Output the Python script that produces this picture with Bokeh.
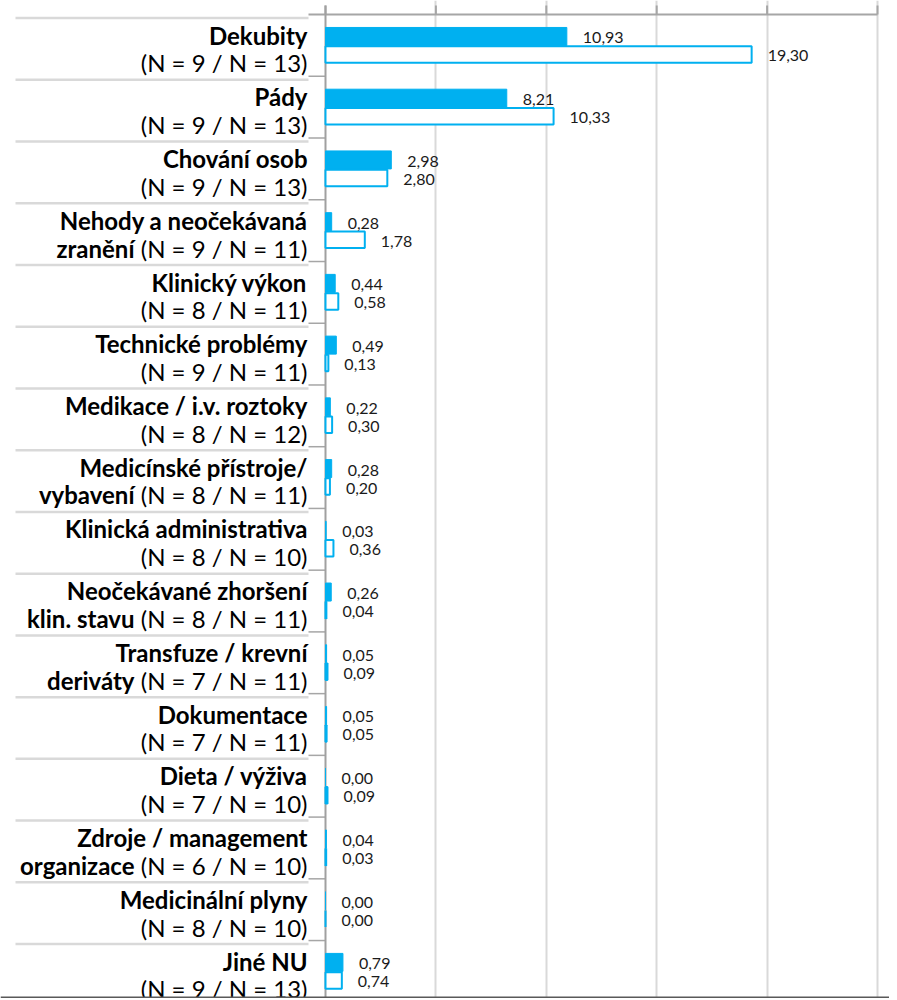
from bokeh.plotting import figure
from bokeh.models import Range1d, FixedTicker, Grid, ColumnDataSource
from bokeh.core.properties import value
from bokeh.embed import file_html
from bokeh.resources import INLINE

# ---------------- data ----------------
cat_line1 = ["Dekubity", "Pády", "Chování osob", "Nehody a neočekávaná", "Klinický výkon",
             "Technické problémy", "Medikace / i.v. roztoky", "Medicínské přístroje/",
             "Klinická administrativa", "Neočekávané zhoršení", "Transfuze / krevní",
             "Dokumentace", "Dieta / výživa", "Zdroje / management", "Medicinální plyny", "Jiné NU"]
cat_line2 = ["", "", "", "zranění", "", "", "", "vybavení", "", "klin. stavu", "deriváty",
             "", "", "organizace", "", ""]
n_first = [9, 9, 9, 9, 8, 9, 8, 8, 8, 8, 7, 7, 7, 6, 8, 9]
n_second = [13, 13, 13, 11, 11, 11, 12, 11, 10, 11, 11, 11, 10, 10, 10, 13]
series_filled = [10.93, 8.21, 2.98, 0.28, 0.44, 0.49, 0.22, 0.28, 0.03, 0.26, 0.05, 0.05, 0.00, 0.04, 0.00, 0.79]
series_outline = [19.30, 10.33, 2.80, 1.78, 0.58, 0.13, 0.30, 0.20, 0.36, 0.04, 0.09, 0.05, 0.09, 0.03, 0.00, 0.74]
x_ticks = [0, 5, 10, 15, 20, 25]

# ---------------- layout / style ----------------
W, H = 889, 998
PX_X = 22.08          # px per value unit
PX_Y = 61.73          # px per category band
ORIGIN_X = 325        # canvas px of value 0
ORIGIN_Y = 14.1       # canvas px of top of first band
BLUE = "#00B0F0"
FONT = value("Lato")
NPART_W = 165         # approx width of "(N = x / N = yy)" in px
TXT_SHIFT = 9.0 / PX_Y

x0 = -ORIGIN_X / PX_X
x1 = (W - ORIGIN_X) / PX_X
y_top = -ORIGIN_Y / PX_Y
y_bot = (H - ORIGIN_Y) / PX_Y

p = figure(width=W, height=H, x_range=Range1d(x0, x1), y_range=Range1d(y_bot, y_top),
           x_axis_location=None, y_axis_location=None, toolbar_location=None,
           output_backend="svg", min_border=0)
p.outline_line_color = None
p.grid.grid_line_color = None
p.background_fill_color = "white"
p.border_fill_color = "white"

p.add_layout(Grid(dimension=0, ticker=FixedTicker(ticks=x_ticks[1:]),
                  grid_line_color="#d9d9d9", grid_line_width=2))

n = len(cat_line1)
idx = list(range(n))
bar_off = 0.1458
y_f = [i + 0.5 - bar_off for i in idx]
y_o = [i + 0.5 + bar_off for i in idx]

def fmt(v):
    return f"{v:.2f}".replace(".", ",")

src = ColumnDataSource(dict(
    y_f=y_f, y_o=y_o, vf=series_filled, vo=series_outline,
    lf=[fmt(v) for v in series_filled], lo=[fmt(v) for v in series_outline],
    y1=[i + 0.478 - TXT_SHIFT for i in idx], y2=[i + 0.928 - TXT_SHIFT for i in idx],
    line1=cat_line1, line2=cat_line2,
    npart=[f"(N = {a} / N = {b})" for a, b in zip(n_first, n_second)],
    zero=[0] * n,
))

# separators in label area
sep_y = [i + 3.5 / PX_Y for i in idx]
p.segment(x0=(15 - ORIGIN_X) / PX_X, x1=-17 / PX_X, y0=sep_y, y1=sep_y,
          line_color="#d9d9d9", line_width=2.5)
# category ticks at band boundaries
b_y = list(range(1, n + 1))
p.segment(x0=-17 / PX_X, x1=0, y0=b_y, y1=b_y, line_color="#a6a6a6", line_width=1.5)
# top value-axis line and its ticks
p.segment(x0=-17 / PX_X, x1=x_ticks[-1], y0=0, y1=0, line_color="#a6a6a6", line_width=2)
tick_top = [-9 / PX_Y] * len(x_ticks)
p.segment(x0=x_ticks, x1=x_ticks, y0=tick_top, y1=[0] * len(x_ticks),
          line_color="#a6a6a6", line_width=2)
# category axis line
p.segment(x0=0, x1=0, y0=-9 / PX_Y, y1=y_bot, line_color="#a0a0a0", line_width=2)

# bars
p.hbar(y="y_f", left=0, right="vf", height=18 / PX_Y, source=src,
       fill_color=BLUE, line_color=BLUE, line_width=1)
p.hbar(y="y_o", left=0, right="vo", height=16.5 / PX_Y, source=src,
       fill_color="white", line_color=BLUE, line_width=2)

# value labels
p.text(x="vf", y="y_f", text="lf", source=src, x_offset=16, y_offset=1.5,
       text_align="left", text_baseline="middle", text_font=FONT,
       text_font_size="16px", text_color="#1a1a1a")
p.text(x="vo", y="y_o", text="lo", source=src, x_offset=16, y_offset=1.5,
       text_align="left", text_baseline="middle", text_font=FONT,
       text_font_size="16px", text_color="#1a1a1a")

# category labels
p.text(x="zero", y="y1", text="line1", source=src, x_offset=-18,
       text_align="right", text_baseline="alphabetic", text_font=FONT,
       text_font_style="bold", text_font_size="24px", text_color="black")
p.text(x="zero", y="y2", text="npart", source=src, x_offset=-18,
       text_align="right", text_baseline="alphabetic", text_font=FONT,
       text_font_size="24px", text_color="black")
p.text(x="zero", y="y2", text="line2", source=src, x_offset=-18 - NPART_W - 8,
       text_align="right", text_baseline="alphabetic", text_font=FONT,
       text_font_style="bold", text_font_size="24px", text_color="black")

# bottom border line
p.segment(x0=x0, x1=x1, y0=y_bot - 1 / PX_Y, y1=y_bot - 1 / PX_Y,
          line_color="#595959", line_width=2)

open("out.html", "w").write(file_html(p, INLINE))
